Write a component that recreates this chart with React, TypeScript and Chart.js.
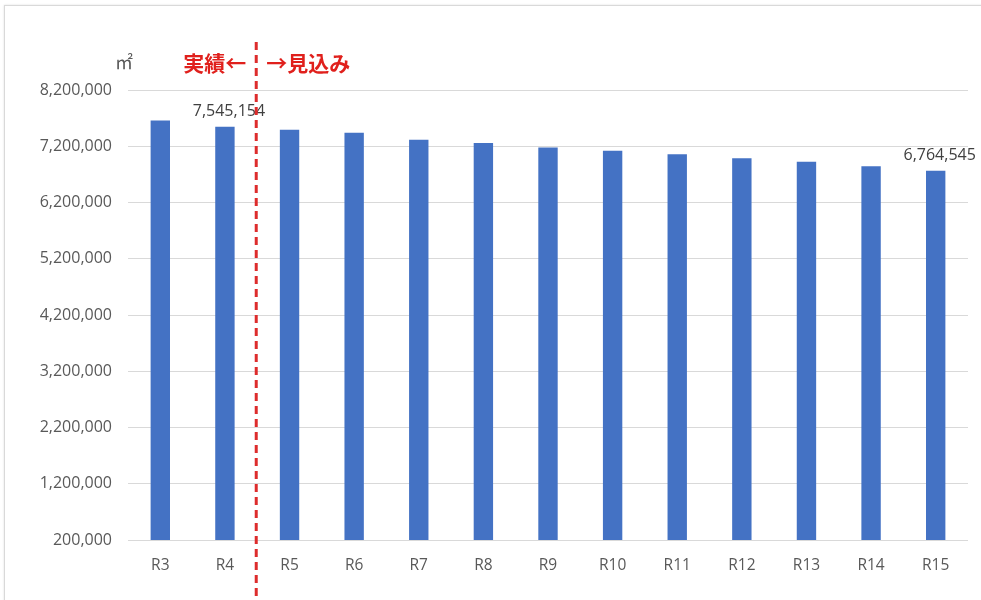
import React, { useEffect, useRef } from "react";
import { Chart, registerables } from "chart.js";

Chart.register(...registerables);

const categories = ["R3", "R4", "R5", "R6", "R7", "R8", "R9", "R10", "R11", "R12", "R13", "R14", "R15"];
const areaValues = [7660000, 7545154, 7495000, 7440000, 7315000, 7260000, 7180000, 7120000, 7060000, 6985000, 6925000, 6845000, 6764545];
const labelledIndices = [1, 12];
const yMin = 200000;
const yMax = 8200000;
const yStep = 1000000;
const unitLabel = "㎡";
const actualLabel = "実績←";
const forecastLabel = "→見込み";
const splitAfterIndex = 1;

const fmt = (v: number) => v.toLocaleString("en-US");

const overlayPlugin = {
  id: "overlay",
  afterDatasetsDraw(chart: any) {
    const ctx = chart.ctx;
    const xs = chart.scales.x;
    const meta = chart.getDatasetMeta(0);
    ctx.save();
    // data labels
    ctx.fillStyle = "#404040";
    ctx.font = "16px 'Open Sans'";
    ctx.textAlign = "center";
    ctx.textBaseline = "middle";
    labelledIndices.forEach((i) => {
      const el = meta.data[i];
      ctx.fillText(fmt(areaValues[i]), el.x + 4, el.y - 15);
    });
    // split line
    const lx = (xs.getPixelForValue(splitAfterIndex) + xs.getPixelForValue(splitAfterIndex + 1)) / 2 - 1;
    ctx.strokeStyle = "#dd2c2c";
    ctx.lineWidth = 3;
    ctx.setLineDash([8, 5]);
    ctx.beginPath();
    ctx.moveTo(lx, 42);
    ctx.lineTo(lx, 600);
    ctx.stroke();
    ctx.setLineDash([]);
    // annotations
    ctx.fillStyle = "#e0201c";
    ctx.font = "bold 21px 'Noto Sans CJK JP'";
    ctx.textBaseline = "middle";
    ctx.textAlign = "right";
    ctx.fillText(actualLabel, lx - 10, 63);
    ctx.textAlign = "left";
    ctx.fillText(forecastLabel, lx + 10, 63);
    // unit
    ctx.fillStyle = "#595959";
    ctx.font = "18px 'Noto Sans CJK JP'";
    ctx.textAlign = "center";
    ctx.fillText(unitLabel, 124, 62);
    ctx.restore();
  },
};

export default function App() {
  const ref = useRef<HTMLCanvasElement | null>(null);
  useEffect(() => {
    if (!ref.current) return;
    const chart = new Chart(ref.current, {
      type: "bar",
      data: {
        labels: categories,
        datasets: [
          {
            data: areaValues,
            backgroundColor: "#4472C4",
            borderWidth: 0,
            barPercentage: 0.6,
            categoryPercentage: 0.5,
          },
        ],
      },
      options: {
        responsive: false,
        animation: false,
        events: [],
        layout: { padding: { top: 90, right: 13, left: 0, bottom: 0 } },
        plugins: { legend: { display: false }, tooltip: { enabled: false } },
        scales: {
          x: {
            grid: { display: false },
            border: { display: false },
            ticks: { color: "#595959", font: { family: "'Open Sans'", size: 15.5 }, padding: 8 },
            afterFit: (s: any) => {
              s.height = 60;
            },
          },
          y: {
            min: yMin,
            max: yMax,
            ticks: {
              stepSize: yStep,
              color: "#595959",
              font: { family: "'Open Sans'", size: 16 },
              padding: 16,
              callback: (v: any) => fmt(Number(v)),
            },
            grid: { color: "#d9d9d9", drawTicks: false, lineWidth: 1 },
            border: { display: false },
            afterFit: (s: any) => {
              s.width = 128;
            },
          },
        },
      },
      plugins: [overlayPlugin],
    });
    return () => chart.destroy();
  }, []);
  return (
    <div style={{ position: "fixed", left: 0, top: 0, width: 981, height: 600, background: "#fff", overflow: "hidden" }}>
      <div style={{ position: "absolute", left: 4, top: 5, width: 1000, height: 700, border: "1px solid #d9d9d9", boxShadow: "0 0 2px #e0e0e0" }} />
      <canvas ref={ref} width={981} height={600} style={{ position: "absolute", left: 0, top: 0 }} />
    </div>
  );
}
